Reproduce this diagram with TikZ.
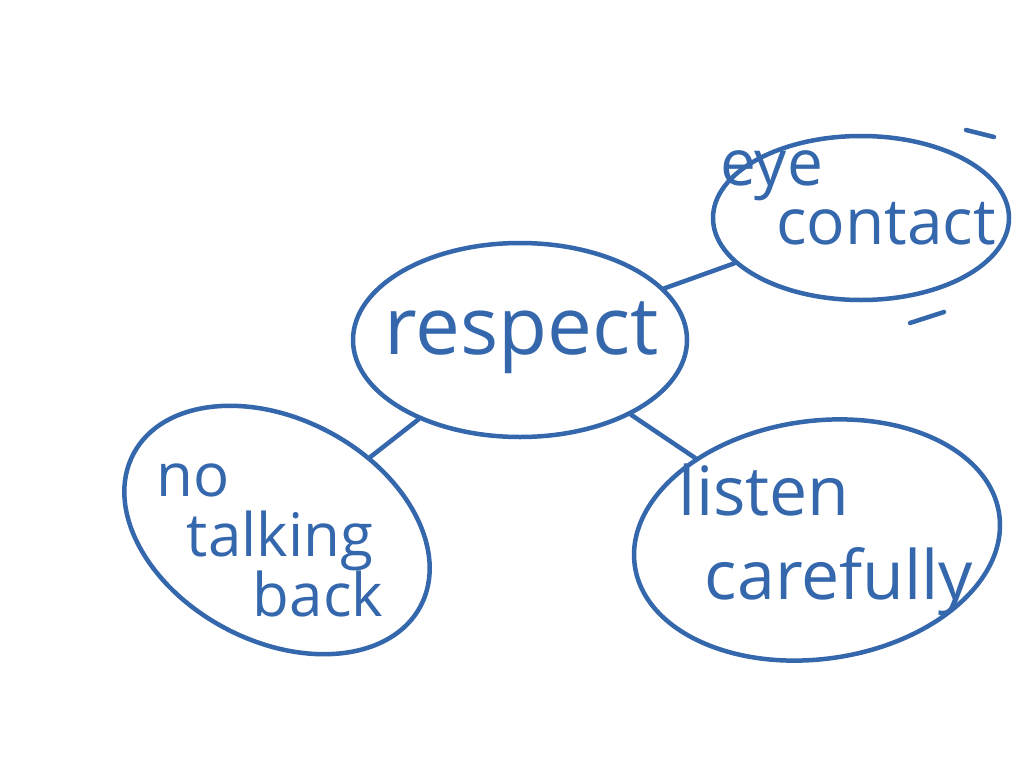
\documentclass[tikz,border=0pt]{standalone}
\usepackage{fontspec}
\setmainfont{Open Sans}
\usepackage{xcolor}
\usepackage{tikz}
\usetikzlibrary{shapes.geometric, positioning}
\definecolor{penColor}{RGB}{52, 103, 172}

\begin{document}
\begin{tikzpicture}[x=1pt, y=-1pt,
    bubble/.style={ellipse, draw=penColor, line width=4.5pt, inner sep=0pt},
    word/.style={text=penColor, align=left, inner sep=0pt, font=\fontsize{64}{52}\selectfont},
    link/.style={draw=penColor, line width=4.5pt, line cap=round}]

    \useasboundingbox[fill=white] (0,0) rectangle (1024,768);

    % bubbles
    \node (respect) [bubble, minimum width=334pt, minimum height=194pt] at (520,340) {};
    \node (eye) [bubble, minimum width=296pt, minimum height=164pt] at (861,218) {};
    \node (back) [bubble, minimum width=325pt, minimum height=222pt, rotate=-28] at (277,530) {};
    \node (listen) [bubble, minimum width=368pt, minimum height=238pt, rotate=8] at (817,540) {};

    % texts
    \node (respectText) [word, font=\fontsize{80}{80}\selectfont] at (522,338) {respect};
    \node (eyeText) [word] at (858,198) {eye\\\hspace{56pt}contact};
    \node (backText) [word, font=\fontsize{60}{60}\selectfont] at (270,540) {no\\\hspace{30pt}talking\\\hspace{96pt}back};
    \node (listenText) [word, font=\fontsize{68}{84}\selectfont] at (826,540) {listen\\\hspace{26pt}carefully};

    % links
    \draw[link] (respect) -- (eye);
    \draw[link] (respect) -- (back);
    \draw[link] (respect) -- (listen);

    % stray strokes
    \draw[link] (966,130) -- (994,137);
    \draw[link] (910,323) -- (944,312);

\end{tikzpicture}
\end{document}
